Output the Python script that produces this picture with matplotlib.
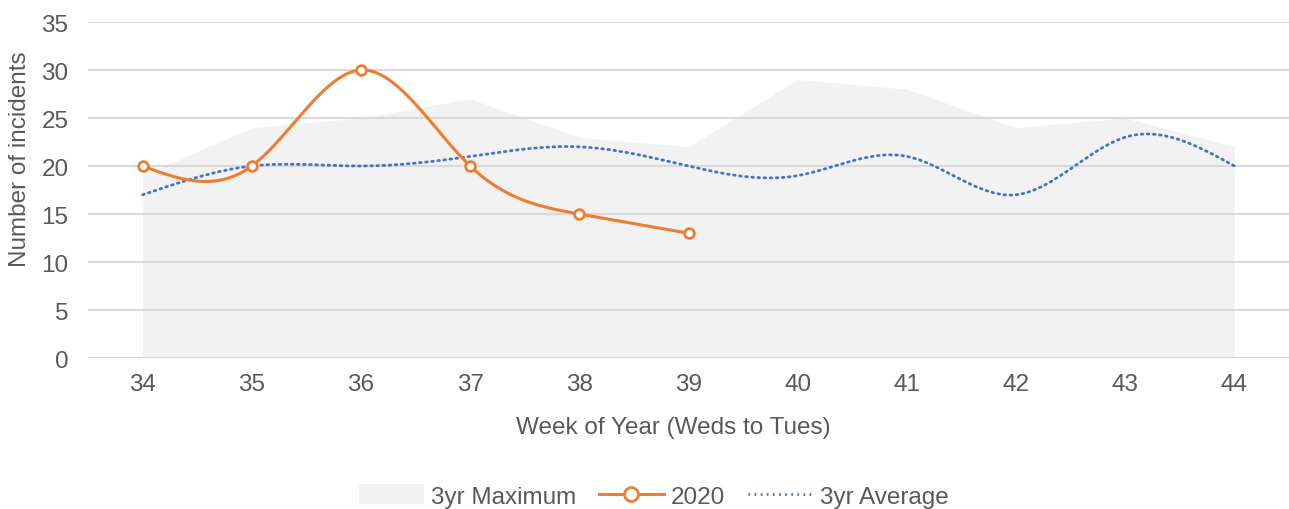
import matplotlib
matplotlib.use("Agg")
import matplotlib.pyplot as plt
from matplotlib.lines import Line2D
from matplotlib.patches import Patch
import numpy as np

weeks = [34, 35, 36, 37, 38, 39, 40, 41, 42, 43, 44]
max_3yr = [19, 24, 25, 27, 23, 22, 29, 28, 24, 25, 22]
avg_3yr = [17, 20, 20, 21, 22, 20, 19, 21, 17, 23, 20]
weeks_2020 = [34, 35, 36, 37, 38, 39]
vals_2020 = [20, 20, 30, 20, 15, 13]

TEXT = "#595959"
GRID = "#d9d9d9"
FILL = "#f2f2f2"
ORANGE = "#ED7D31"
BLUE = "#4472C4"
FS = 17.5

plt.rcParams["font.family"] = ["Liberation Sans", "DejaVu Sans"]


def natural_spline(xs, ys, samples=40):
    """Natural cubic spline through (xs, ys), evaluated densely."""
    xs = np.asarray(xs, float)
    ys = np.asarray(ys, float)
    n = len(xs)
    h = np.diff(xs)
    A = np.zeros((n, n))
    b = np.zeros(n)
    A[0, 0] = A[-1, -1] = 1.0
    for i in range(1, n - 1):
        A[i, i - 1] = h[i - 1]
        A[i, i] = 2 * (h[i - 1] + h[i])
        A[i, i + 1] = h[i]
        b[i] = 6 * ((ys[i + 1] - ys[i]) / h[i] - (ys[i] - ys[i - 1]) / h[i - 1])
    M = np.linalg.solve(A, b)
    out_x, out_y = [], []
    for i in range(n - 1):
        t = np.linspace(xs[i], xs[i + 1], samples, endpoint=(i == n - 2))
        a = xs[i + 1] - t
        c = t - xs[i]
        y = (M[i] * a ** 3 + M[i + 1] * c ** 3) / (6 * h[i]) \
            + (ys[i] / h[i] - M[i] * h[i] / 6) * a \
            + (ys[i + 1] / h[i] - M[i + 1] * h[i] / 6) * c
        out_x.append(t)
        out_y.append(y)
    return np.concatenate(out_x), np.concatenate(out_y)


fig = plt.figure(figsize=(12.89, 5.10), dpi=100)
ax = fig.add_axes([88 / 1289, (510 - 359) / 510, 1 - 88 / 1289, (359 - 23) / 510])

xpos = np.arange(len(weeks))
ax.fill_between(xpos, 0, max_3yr, color=FILL, linewidth=0, zorder=1)

for y in range(0, 36, 5):
    ax.axhline(y, color=GRID, linewidth=1.5, zorder=2)

dots = (0, (0.6, 1.6))
ax_x, ax_y = natural_spline(xpos, avg_3yr)
ax.plot(ax_x, ax_y, color=BLUE, linewidth=2.0, linestyle=dots,
        dash_capstyle="round", zorder=3)

x2020 = np.array([weeks.index(w) for w in weeks_2020])
sx, sy = natural_spline(x2020, vals_2020)
ax.plot(sx, sy, color=ORANGE, linewidth=2.2, zorder=4)
ax.plot(x2020, vals_2020, linestyle="none", marker="o", markersize=7,
        markerfacecolor="white", markeredgecolor=ORANGE, markeredgewidth=2,
        zorder=5)

ax.set_xlim(-0.5, len(weeks) - 0.5)
ax.set_ylim(0, 35)
ax.set_xticks(xpos)
ax.set_xticklabels([str(w) for w in weeks])
ax.set_yticks(range(0, 36, 5))
ax.tick_params(axis="both", length=0, labelsize=FS, colors=TEXT)
ax.tick_params(axis="x", pad=11)
ax.tick_params(axis="y", pad=14)
for s in ax.spines.values():
    s.set_visible(False)

ax.set_xlabel("Week of Year (Weds to Tues)", fontsize=FS, color=TEXT)
ax.set_ylabel("Number of incidents", fontsize=FS, color=TEXT)
ax.xaxis.set_label_coords((673 - 88) / (1289 - 88), -(428 - 359) / (359 - 23),
                          transform=ax.transAxes)
ax.xaxis.label.set_verticalalignment("center")
ax.yaxis.set_label_coords(-(88 - 20) / (1289 - 88), (359 - 159) / (359 - 23),
                          transform=ax.transAxes)
ax.yaxis.label.set_verticalalignment("center")

handles = [
    Patch(facecolor=FILL, edgecolor="none"),
    Line2D([0], [0], color=ORANGE, linewidth=2.2, marker="o", markersize=10,
           markerfacecolor="white", markeredgecolor=ORANGE, markeredgewidth=2),
    Line2D([0], [0], color=BLUE, linewidth=2.0, linestyle=dots),
]
labels = ["3yr Maximum", "2020", "3yr Average"]
leg = fig.legend(handles, labels, loc="center", bbox_to_anchor=(654 / 1289, 1 - 497 / 510),
                 ncol=3, frameon=False, fontsize=FS, handlelength=2.65,
                 handleheight=0.9, columnspacing=0.95, handletextpad=0.3)
for t in leg.get_texts():
    t.set_color(TEXT)

fig.savefig("out.png", dpi=100)
